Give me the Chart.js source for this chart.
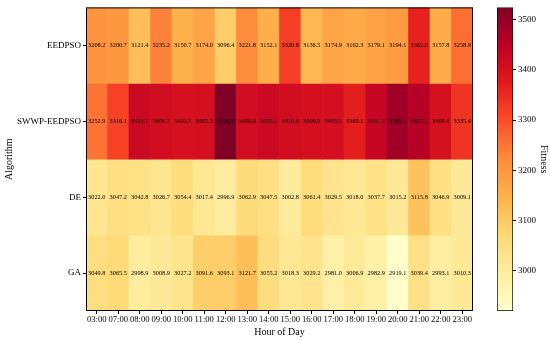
<!DOCTYPE html>
<html>
<head>
<meta charset="utf-8">
<script src="https://cdn.jsdelivr.net/npm/chart.js@4"></script>
<style>
  body { margin: 0; background: #fff; }
  #wrap { position: relative; width: 550px; height: 340px; }
  #heat { position: absolute; left: 0; top: 0; }
  #cbar { position: absolute; left: 480px; top: 0; }
</style>
</head>
<body>
<div id="wrap">
  <canvas id="heat" width="480" height="340"></canvas>
  <canvas id="cbar" width="70" height="340"></canvas>
</div>
<script>
const hours = ['03:00', '07:00', '08:00', '09:00', '10:00', '11:00', '12:00', '13:00', '14:00',
    '15:00', '16:00', '17:00', '18:00', '19:00', '20:00', '21:00', '22:00', '23:00'];
const algorithms = ['EEDPSO', 'SWWP-EEDPSO', 'DE', 'GA'];

const eedpso = [3208.2, 3200.7, 3121.4, 3235.2, 3150.7, 3174.0, 3096.4, 3221.8, 3152.1,
    3320.8, 3136.5, 3174.9, 3162.3, 3179.1, 3194.1, 3362.0, 3157.8, 3258.9];
const swwp = [3252.9, 3316.1, 3422.7, 3409.7, 3401.5, 3405.3, 3524.6, 3409.9, 3423.1,
    3410.6, 3406.0, 3405.0, 3369.1, 3431.3, 3485.3, 3457.1, 3400.4, 3335.4];
const de = [3022.0, 3047.2, 3042.8, 3026.7, 3054.4, 3017.4, 2996.9, 3062.9, 3047.5,
    3002.8, 3061.4, 3029.5, 3018.0, 3037.7, 3015.2, 3115.8, 3046.9, 3009.1];
const ga = [3049.8, 3065.5, 2998.9, 3008.9, 3027.2, 3091.6, 3093.1, 3121.7, 3055.2,
    3018.3, 3029.2, 2981.0, 3006.9, 2982.9, 2919.1, 3039.4, 2993.1, 3010.3];
const colorTicks = [3000, 3100, 3200, 3300, 3400, 3500];

const rows = [eedpso, swwp, de, ga];
const vmin = Math.min(...rows.flat());
const vmax = Math.max(...rows.flat());

// YlOrRd
const cmap = ['#ffffcc', '#ffeda0', '#fed976', '#feb24c', '#fd8d3c', '#fc4e2a', '#e31a1c', '#bd0026', '#800026'];

function hexToRgb(h) {
    return [parseInt(h.slice(1, 3), 16), parseInt(h.slice(3, 5), 16), parseInt(h.slice(5, 7), 16)];
}
function colorFor(v) {
    let t = (v - vmin) / (vmax - vmin);
    t = Math.max(0, Math.min(1, t)) * (cmap.length - 1);
    const i = Math.min(Math.floor(t), cmap.length - 2);
    const f = t - i;
    const a = hexToRgb(cmap[i]), b = hexToRgb(cmap[i + 1]);
    const c = a.map((x, k) => Math.round(x + (b[k] - x) * f));
    return `rgb(${c[0]}, ${c[1]}, ${c[2]})`;
}

const serif = 'Liberation Serif';

const datasets = rows.map((vals, r) => ({
    label: algorithms[r],
    data: vals.map(() => [r, r + 1]),
    values: vals,
    backgroundColor: vals.map(colorFor),
    borderWidth: 0,
    barPercentage: 1,
    categoryPercentage: 1,
    grouped: false
}));

// cell text + frame
const cellLabels = {
    id: 'cellLabels',
    afterDatasetsDraw(chart) {
        const c = chart.ctx;
        c.save();
        c.font = `6.3px "${serif}"`;
        c.fillStyle = '#000';
        c.textAlign = 'center';
        c.textBaseline = 'middle';
        chart.data.datasets.forEach((ds, d) => {
            chart.getDatasetMeta(d).data.forEach((el, i) => {
                const p = el.getCenterPoint();
                c.fillText(ds.values[i].toFixed(1), p.x, p.y);
            });
        });
        const a = chart.chartArea;
        c.strokeStyle = '#000';
        c.lineWidth = 1;
        c.strokeRect(a.left + 0.5, a.top + 0.5, a.right - a.left - 1, a.bottom - a.top - 1);
        c.restore();
    }
};

new Chart(document.getElementById('heat'), {
    type: 'bar',
    data: { labels: hours, datasets },
    options: {
        responsive: false,
        animation: false,
        layout: { padding: { top: 5, right: 7, left: 3, bottom: 0 } },
        plugins: { legend: { display: false }, tooltip: { enabled: false } },
        scales: {
            x: {
                grid: { offset: false, drawOnChartArea: false, tickLength: 3, tickColor: '#000' },
                border: { display: false },
                ticks: { color: '#000', font: { family: serif, size: 8.6 }, maxRotation: 0, autoSkip: false, padding: 1 },
                title: { display: true, text: 'Hour of Day', color: '#000', font: { family: serif, size: 10 }, padding: { top: 0, bottom: 2 } },
                afterFit(scale) { scale.height = 29; }
            },
            y: {
                type: 'linear',
                min: 0,
                max: 4,
                reverse: true,
                grid: { drawOnChartArea: false, tickLength: 3, tickColor: '#000' },
                border: { display: false },
                afterBuildTicks(scale) {
                    scale.ticks = [0.5, 1.5, 2.5, 3.5].map(v => ({ value: v }));
                },
                ticks: {
                    color: '#000',
                    font: { family: serif, size: 9 },
                    padding: 2,
                    callback: v => algorithms[Math.floor(v)]
                },
                title: { display: true, text: 'Algorithm', color: '#000', font: { family: serif, size: 10 }, padding: 0 },
                afterFit(scale) { scale.width = 83; }
            }
        }
    },
    plugins: [cellLabels]
});

// colorbar
new Chart(document.getElementById('cbar'), {
    type: 'bar',
    data: {
        labels: ['Fitness'],
        datasets: [{
            data: [[vmin, vmax]],
            backgroundColor(ctx) {
                const a = ctx.chart.chartArea;
                if (!a) return cmap[0];
                const g = ctx.chart.ctx.createLinearGradient(0, a.bottom, 0, a.top);
                cmap.forEach((col, i) => g.addColorStop(i / (cmap.length - 1), col));
                return g;
            },
            borderColor: '#000',
            borderWidth: 1,
            borderSkipped: false,
            barPercentage: 1,
            categoryPercentage: 1
        }]
    },
    options: {
        responsive: false,
        animation: false,
        layout: { padding: { top: 5, left: 17, right: 0, bottom: 29 } },
        plugins: { legend: { display: false }, tooltip: { enabled: false } },
        scales: {
            x: { display: false },
            y: {
                position: 'right',
                min: vmin,
                max: vmax,
                grid: { drawOnChartArea: false, tickLength: 3, tickColor: '#000' },
                border: { display: false },
                afterBuildTicks(scale) {
                    scale.ticks = colorTicks.map(v => ({ value: v }));
                },
                ticks: { color: '#000', font: { family: serif, size: 9 }, padding: 2, callback: v => String(v) },
                title: { display: true, text: 'Fitness', color: '#000', font: { family: serif, size: 10 }, padding: { top: 0, bottom: 2 } },
                afterFit(scale) { scale.width = 37; }
            }
        }
    }
});
</script>
</body>
</html>
